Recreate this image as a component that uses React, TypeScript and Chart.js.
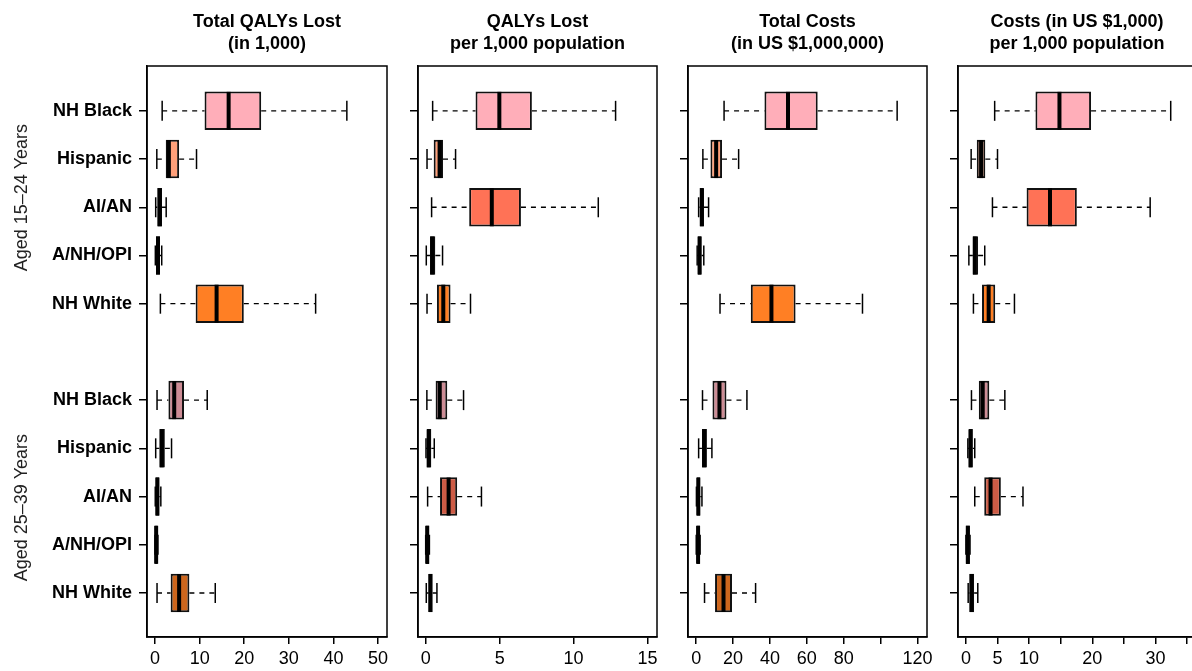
import React, { useEffect, useRef } from 'react';
import { Chart, registerables } from 'chart.js';

Chart.register(...registerables);

const FONT = "'Liberation Sans', Arial, Helvetica, sans-serif";

// ---- Categories ----
const races = ['NH Black', 'Hispanic', 'AI/AN', 'A/NH/OPI', 'NH White'];
const ageGroups = ['Aged 15\u201324 Years', 'Aged 25\u201339 Years'];
// slot of each row on the vertical axis (15-24 group on top, 25-39 group below, gap at 6)
const rowSlots = [11, 10, 9, 8, 7, 5, 4, 3, 2, 1];
const rowLabels = [...races, ...races];
const groupLabelSlots = [9.2, 2.77];

const fillColors = [
  '#FFAEB9', '#FFA07A', '#FF7256', '#EEB4B4', '#FF7F24',
  '#CD8C95', '#CD8162', '#CD5B45', '#CD9B9B', '#CD661D',
];

// ---- Total QALYs lost (in 1,000) ----
const qalyTotalLo = [1.6, 0.4, 0.15, 0.07, 1.2, 0.45, 0.15, 0.05, 0.0, 0.45];
const qalyTotalQ1 = [11.1, 2.4, 0.5, 0.22, 9.1, 3.0, 0.97, 0.1, 0.02, 3.5];
const qalyTotalMed = [16.5, 3.1, 1.05, 0.67, 13.8, 4.3, 1.5, 0.52, 0.25, 5.4];
const qalyTotalQ3 = [23.8, 5.4, 1.57, 1.1, 19.9, 6.5, 2.2, 0.97, 0.6, 7.7];
const qalyTotalHi = [43.0, 9.3, 2.5, 1.5, 36.0, 11.7, 3.7, 1.3, 0.65, 13.5];

// ---- QALYs lost per 1,000 population ----
const qalyRateLo = [0.47, 0.09, 0.4, 0.04, 0.09, 0.08, 0.02, 0.13, 0.0, 0.04];
const qalyRateQ1 = [3.37, 0.54, 2.94, 0.29, 0.76, 0.67, 0.09, 0.97, 0.02, 0.2];
const qalyRateMed = [4.98, 0.94, 4.47, 0.45, 1.19, 0.95, 0.2, 1.55, 0.1, 0.31];
const qalyRateQ3 = [7.18, 1.17, 6.44, 0.65, 1.68, 1.46, 0.38, 2.13, 0.24, 0.47];
const qalyRateHi = [12.84, 2.02, 11.67, 1.14, 3.03, 2.56, 0.58, 3.77, 0.25, 0.76];

// ---- Total costs (in US $1,000,000) ----
const costTotalLo = [15.1, 3.6, 1.3, 0.5, 12.9, 3.4, 1.3, 0.1, 0.0, 4.5];
const costTotalQ1 = [37.0, 7.7, 1.8, 0.9, 29.6, 8.8, 3.1, 0.4, 0.2, 10.2];
const costTotalMed = [49.8, 10.8, 3.1, 1.8, 40.8, 12.6, 4.3, 1.1, 1.0, 14.8];
const costTotalQ3 = [65.9, 14.0, 4.1, 2.9, 53.9, 16.4, 5.8, 2.2, 2.0, 19.4];
const costTotalHi = [109.0, 23.0, 6.7, 4.1, 90.2, 27.5, 8.5, 3.1, 2.1, 32.2];

// ---- Costs (in US $1,000) per 1,000 population ----
const costRateLo = [4.55, 0.83, 4.2, 0.47, 1.19, 0.88, 0.31, 1.4, 0.0, 0.36];
const costRateQ1 = [11.0, 1.72, 9.6, 1.1, 2.55, 2.04, 0.47, 2.9, 0.02, 0.56];
const costRateMed = [14.8, 2.4, 13.3, 1.4, 3.6, 2.66, 0.72, 3.9, 0.3, 0.88];
const costRateQ3 = [19.8, 3.07, 17.55, 1.93, 4.64, 3.7, 1.1, 5.53, 0.63, 1.3];
const costRateHi = [32.4, 5.0, 29.15, 2.98, 7.68, 6.16, 1.4, 9.03, 0.65, 1.88];

// ---- Axis ticks ----
const qalyTotalTicks = [0, 10, 20, 30, 40, 50];
const qalyTotalTickLabels = [0, 10, 20, 30, 40, 50];
const qalyRateTicks = [0, 5, 10, 15];
const qalyRateTickLabels = [0, 5, 10, 15];
const costTotalTicks = [0, 20, 40, 60, 80, 100, 120];
const costTotalTickLabels = [0, 20, 40, 60, 80, 120];
const costRateTicks = [0, 5, 10, 15, 20, 25, 30, 35];
const costRateTickLabels = [0, 5, 10, 20, 30];

type PanelSpec = {
  key: string;
  title: [string, string];
  lo: number[];
  q1: number[];
  med: number[];
  q3: number[];
  hi: number[];
  xMin: number;
  xMax: number;
  ticks: number[];
  tickLabels: number[];
  left: number;
  width: number;
  yAxisWidth: number;
  rightPad: number;
  first: boolean;
};

const panels: PanelSpec[] = [
  {
    key: 'p1', title: ['Total QALYs Lost', '(in 1,000)'],
    lo: qalyTotalLo, q1: qalyTotalQ1, med: qalyTotalMed, q3: qalyTotalQ3, hi: qalyTotalHi,
    xMin: -1.8, xMax: 52.0, ticks: qalyTotalTicks, tickLabels: qalyTotalTickLabels,
    left: 0, width: 410, yAxisWidth: 147, rightPad: 23, first: true,
  },
  {
    key: 'p2', title: ['QALYs Lost', 'per 1,000 population'],
    lo: qalyRateLo, q1: qalyRateQ1, med: qalyRateMed, q3: qalyRateQ3, hi: qalyRateHi,
    xMin: -0.52, xMax: 15.64, ticks: qalyRateTicks, tickLabels: qalyRateTickLabels,
    left: 395, width: 285, yAxisWidth: 22, rightPad: 23, first: false,
  },
  {
    key: 'p3', title: ['Total Costs', '(in US $1,000,000)'],
    lo: costTotalLo, q1: costTotalQ1, med: costTotalMed, q3: costTotalQ3, hi: costTotalHi,
    xMin: -4.47, xMax: 125.2, ticks: costTotalTicks, tickLabels: costTotalTickLabels,
    left: 665, width: 285, yAxisWidth: 21, rightPad: 23, first: false,
  },
  {
    key: 'p4', title: ['Costs (in US $1,000)', 'per 1,000 population'],
    lo: costRateLo, q1: costRateQ1, med: costRateMed, q3: costRateQ3, hi: costRateHi,
    xMin: -1.25, xMax: 36.4, ticks: costRateTicks, tickLabels: costRateTickLabels,
    left: 935, width: 285, yAxisWidth: 21, rightPad: 24, first: false,
  },
];

const H = 671;

function PanelChart({ spec }: { spec: PanelSpec }) {
  const ref = useRef<HTMLCanvasElement | null>(null);

  useEffect(() => {
    if (!ref.current) return;
    const s = spec;

    const whiskerData: any[] = [];
    const capData: any[] = [];
    const boxData: any[] = [];
    const medData: any[] = [];
    rowSlots.forEach((slot, i) => {
      whiskerData.push(
        { x: s.lo[i], y: slot }, { x: s.q1[i], y: slot }, { x: null, y: slot },
        { x: s.q3[i], y: slot }, { x: s.hi[i], y: slot }, { x: null, y: slot },
      );
      capData.push({ x: s.lo[i], y: slot }, { x: s.hi[i], y: slot });
      boxData.push({ x: [s.q1[i], s.q3[i]], y: slot });
      medData.push({ x: s.med[i], y: slot });
    });

    const framePlugin = {
      id: 'frameAndTitles',
      afterDraw(chart: any) {
        const { ctx, chartArea } = chart;
        ctx.save();
        ctx.strokeStyle = '#000';
        ctx.lineWidth = 1.5;
        ctx.strokeRect(chartArea.left, chartArea.top, chartArea.right - chartArea.left, chartArea.bottom - chartArea.top);
        // panel titles
        const cx = (chartArea.left + chartArea.right) / 2;
        ctx.fillStyle = '#000';
        ctx.font = `bold 18px ${FONT}`;
        ctx.textAlign = 'center';
        ctx.textBaseline = 'alphabetic';
        ctx.fillText(s.title[0], cx, 27);
        ctx.fillText(s.title[1], cx, 48.6);
        // group labels on the first panel
        if (s.first) {
          const y = chart.scales.y;
          ctx.font = `18px ${FONT}`;
          ctx.fillStyle = '#222';
          groupLabelSlots.forEach((v, gi) => {
            ctx.save();
            ctx.translate(27, y.getPixelForValue(v));
            ctx.rotate(-Math.PI / 2);
            ctx.textAlign = 'center';
            ctx.fillText(ageGroups[gi], 0, 0);
            ctx.restore();
          });
        }
        ctx.restore();
      },
    };

    const chart = new Chart(ref.current, {
      type: 'scatter',
      data: {
        datasets: [
          {
            type: 'line',
            data: whiskerData,
            borderColor: '#000',
            borderWidth: 1.3,
            borderDash: [5, 5],
            pointRadius: 0,
            fill: false,
            spanGaps: false,
            tension: 0,
            order: 4,
          } as any,
          {
            type: 'scatter',
            data: capData,
            pointStyle: 'line',
            pointRadius: 10,
            pointRotation: 90,
            pointBorderColor: '#000',
            pointBackgroundColor: '#000',
            pointBorderWidth: 1.5,
            order: 3,
          } as any,
          {
            type: 'bar',
            indexAxis: 'y',
            data: boxData,
            backgroundColor: fillColors,
            borderColor: '#111',
            borderWidth: 2,
            borderSkipped: false,
            barPercentage: 0.8,
            categoryPercentage: 1,
            order: 2,
          } as any,
          {
            type: 'scatter',
            data: medData,
            pointStyle: 'line',
            pointRadius: 19,
            pointRotation: 90,
            pointBorderColor: '#000',
            pointBackgroundColor: '#000',
            pointBorderWidth: 4,
            order: 1,
          } as any,
        ],
      },
      options: {
        responsive: false,
        animation: false,
        events: [],
        layout: { padding: { top: 66, left: 0, right: s.rightPad, bottom: 0 } },
        plugins: {
          legend: { display: false },
          tooltip: { enabled: false },
          title: { display: false },
        },
        scales: {
          x: {
            type: 'linear',
            position: 'bottom',
            min: s.xMin,
            max: s.xMax,
            offset: false,
            afterBuildTicks: (sc: any) => {
              sc.ticks = s.ticks.map((v) => ({ value: v }));
            },
            afterFit: (sc: any) => {
              sc.height = 34;
            },
            ticks: {
              autoSkip: false,
              maxRotation: 0,
              padding: 4.5,
              color: '#000',
              font: { family: FONT, size: 18 },
              callback: (v: any) => (s.tickLabels.includes(Number(v)) ? String(v) : ''),
            },
            grid: { drawOnChartArea: false, drawTicks: true, tickLength: 7, color: '#000', lineWidth: 1.5, offset: false },
            border: { display: true, color: '#000', width: 1.5 },
          },
          y: {
            type: 'linear',
            position: 'left',
            min: 0.087,
            max: 11.93,
            offset: false,
            afterBuildTicks: (sc: any) => {
              sc.ticks = [...rowSlots].sort((a, b) => a - b).map((v) => ({ value: v }));
            },
            afterFit: (sc: any) => {
              sc.width = s.yAxisWidth;
            },
            ticks: {
              display: s.first,
              autoSkip: false,
              padding: 7,
              color: '#000',
              font: { family: FONT, size: 18, weight: 'bold' },
              callback: (v: any) => {
                const idx = rowSlots.indexOf(Number(v));
                return idx >= 0 ? rowLabels[idx] : '';
              },
            },
            grid: { drawOnChartArea: false, drawTicks: true, tickLength: 8, color: '#000', lineWidth: 1.5, offset: false },
            border: { display: true, color: '#000', width: 1.5 },
          },
        },
      } as any,
      plugins: [framePlugin],
    });

    return () => chart.destroy();
  }, [spec]);

  return (
    <canvas
      ref={ref}
      width={spec.width}
      height={H}
      style={{ position: 'absolute', left: spec.left, top: 0, width: spec.width, height: H, display: 'block' }}
    />
  );
}

export default function App() {
  return (
    <div
      style={{
        position: 'fixed',
        left: 0,
        top: 0,
        width: 1192,
        height: 671,
        overflow: 'hidden',
        background: '#fff',
      }}
    >
      {panels.map((p) => (
        <PanelChart key={p.key} spec={p} />
      ))}
    </div>
  );
}
